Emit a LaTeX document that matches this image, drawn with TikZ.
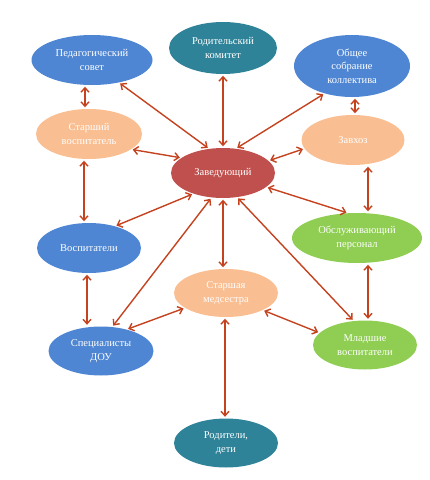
\documentclass[tikz,border=0pt]{standalone}
\usepackage{fontspec}
\setmainfont{Liberation Serif}
\usetikzlibrary{shapes.geometric,arrows.meta}
\definecolor{cblue}{HTML}{4F86D3}
\definecolor{cteal}{HTML}{2E8399}
\definecolor{cpeach}{HTML}{F9BE91}
\definecolor{cred}{HTML}{C0504D}
\definecolor{cgreen}{HTML}{8FCE52}
\definecolor{carrow}{HTML}{C4421E}
\tikzset{
  ell/.style={ellipse, draw=none, inner sep=0pt, text=white, align=center,
    font=\fontsize{10.5}{13.5}\selectfont},
  link/.style={carrow, line width=1.4pt, {Straight Barb[length=4.5pt,width=8pt]}-{Straight Barb[length=4.5pt,width=8pt]}, shorten >=1.5pt, shorten <=1.5pt}
}
\begin{document}
\begin{tikzpicture}[x=1pt,y=-1pt]
\useasboundingbox (0,0) rectangle (430,480);
\node[ell, fill=cblue, minimum width=121pt, minimum height=50pt] (ped) at (92,60) {Педагогический\\совет};
\node[ell, fill=cteal, minimum width=108pt, minimum height=52pt] (rk) at (223,48) {Родительский\\комитет};
\node[ell, fill=cblue, minimum width=116pt, minimum height=62pt] (obs) at (352,66) {Общее\\собрание\\коллектива};
\node[ell, fill=cpeach, minimum width=106pt, minimum height=50pt] (sv) at (89,134) {Старший\\воспитатель};
\node[ell, fill=cpeach, minimum width=103pt, minimum height=50pt] (zh) at (353,140) {Завхоз};
\node[ell, fill=cred, minimum width=104pt, minimum height=50pt] (zav) at (223,173) {Заведующий};
\node[ell, fill=cblue, minimum width=104pt, minimum height=50pt] (vos) at (89,248) {Воспитатели};
\node[ell, fill=cgreen, minimum width=130pt, minimum height=50pt] (op) at (357,238) {Обслуживающий\\персонал};
\node[ell, fill=cpeach, minimum width=104pt, minimum height=48pt] (med) at (226,293) {Старшая\\медсестра};
\node[ell, fill=cblue, minimum width=105pt, minimum height=49pt] (spec) at (101,351) {Специалисты\\ДОУ};
\node[ell, fill=cgreen, minimum width=104pt, minimum height=49pt] (ml) at (365,345) {Младшие\\воспитатели};
\node[ell, fill=cteal, minimum width=104pt, minimum height=49pt] (rod) at (226,443) {Родители,\\дети};

% from head
\draw[link] (zav.120) -- (ped.-40);
\draw[link] (zav.north) -- (rk.south);
\draw[link] (zav.62) -- (obs.-135);
\draw[link] (zav.160) -- (sv.-20);
\draw[link] (zav.15) -- (zh.190);
\draw[link] (zav.-18) -- (op.110);
\draw[link] (zav.-145) -- (vos.40);
\draw[link] (zav.-115) -- (spec.65);
\draw[link] (zav.south) -- ([xshift=-3pt]med.north);
\draw[link] (zav.-60) -- (ml.115);
% left column
\draw[link] ([xshift=-7pt]ped.south) -- ([xshift=-4pt]sv.north);
\draw[link] ([xshift=-5pt]sv.south) -- ([xshift=-5pt]vos.north);
\draw[link] ([xshift=-2pt]vos.south) -- ([xshift=-14pt]spec.north);
% right column
\draw[link] ([xshift=3pt]obs.south) -- ([xshift=2pt]zh.north);
\draw[link] ([xshift=15pt]zh.south) -- ([xshift=11pt]op.north);
\draw[link] ([xshift=11pt]op.south) -- ([xshift=3pt]ml.north);
% nurse
\draw[link] (med.-160) -- (spec.40);
\draw[link] (med.-25) -- (ml.165);
\draw[link] ([xshift=-1pt]med.south) -- ([xshift=-1pt]rod.north);
\end{tikzpicture}
\end{document}
